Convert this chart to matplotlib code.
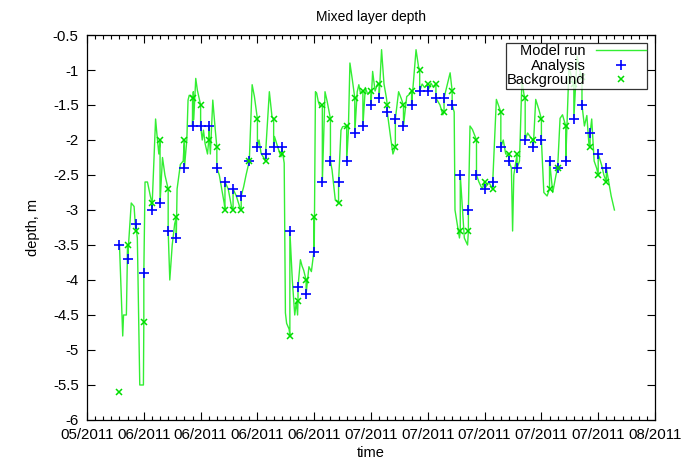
"""Mixed layer depth: model run vs analysis and background."""

import matplotlib
matplotlib.use("Agg")
import matplotlib.pyplot as plt
import matplotlib.dates as mdates
import numpy as np
import pandas as pd

start = pd.Timestamp("2011-05-29")

# daily assimilation cycles (days since start)
cycle_days = list(range(4, 65))

analysis = [
    -3.5, -3.7, -3.2, -3.9, -3.0, -2.9, -3.3, -3.4, -2.4, -1.8,
    -1.8, -1.8, -2.4, -2.6, -2.7, -2.8, -2.3, -2.1, -2.2, -2.1,
    -2.1, -3.3, -4.1, -4.2, -3.6, -2.6, -2.3, -2.6, -2.3, -1.9,
    -1.8, -1.5, -1.4, -1.6, -1.7, -1.8, -1.5, -1.3, -1.3, -1.4,
    -1.4, -1.5, -2.5, -3.0, -2.5, -2.7, -2.6, -2.1, -2.3, -2.4,
    -2.0, -2.1, -2.0, -2.3, -2.4, -2.3, -1.7, -1.5, -1.9, -2.2,
    -2.4,
]

background = [
    -5.6, -3.5, -3.3, -4.6, -2.9, -2.0, -2.7, -3.1, -2.0, -1.4,
    -1.5, -2.0, -2.1, -3.0, -3.0, -3.0, -2.3, -1.7, -2.3, -1.7,
    -2.2, -4.8, -4.3, -4.0, -3.1, -1.5, -1.7, -2.9, -1.8, -1.4,
    -1.3, -1.3, -1.2, -1.5, -2.1, -1.5, -1.3, -1.0, -1.2, -1.2,
    -1.6, -1.3, -3.3, -3.3, -2.0, -2.6, -2.7, -1.6, -2.2, -2.2,
    -1.4, -2.0, -1.7, -2.7, -2.4, -1.8, -1.2, -1.1, -2.1, -2.5,
    -2.6,
]

# model trajectory between cycles: (day, depth) after each analysis
model_between = {
    4: [(4.4, -4.8), (4.5, -4.5), (4.85, -4.5)],
    5: [(5.45, -2.9), (5.8, -2.95)],
    6: [(6.2, -3.4), (6.5, -5.5), (6.95, -5.5)],
    7: [(7.15, -2.6), (7.45, -2.6), (7.8, -2.8)],
    8: [(8.45, -1.7), (8.6, -1.9), (8.85, -2.2)],
    9: [(9.3, -2.25), (9.6, -2.5)],
    10: [(10.2, -4.0), (10.5, -3.5), (10.8, -3.2)],
    11: [(11.1, -2.7), (11.5, -2.35), (11.85, -2.3)],
    12: [(12.3, -2.0), (12.45, -1.43), (12.6, -1.36)],
    13: [(13.1, -1.31), (13.15, -1.71), (13.4, -1.12), (13.6, -1.29)],
    14: [(14.2, -2.0), (14.35, -1.86), (14.55, -2.05), (14.85, -2.2)],
    15: [(15.2, -2.2), (15.5, -1.43), (15.8, -1.85)],
    16: [(16.3, -2.5), (16.6, -2.7), (16.9, -2.9)],
    17: [(17.4, -2.7), (17.8, -2.95)],
    18: [(18.4, -2.8), (18.8, -2.95)],
    19: [(19.3, -2.67), (19.6, -2.5)],
    20: [(20.35, -1.21), (20.63, -1.38)],
    21: [(21.2, -2.0), (21.45, -2.19), (21.95, -2.29)],
    22: [(22.47, -1.31), (22.8, -1.67)],
    23: [(23.1, -1.95), (23.5, -2.1), (23.9, -2.24)],
    24: [(24.3, -2.33), (24.45, -4.47), (24.6, -4.62), (24.9, -4.7)],
    25: [(25.3, -4.0), (25.6, -4.5), (25.8, -4.31), (25.95, -4.5)],
    26: [(26.3, -3.71), (26.5, -3.8), (26.7, -3.86)],
    27: [(27.35, -3.81), (27.65, -3.88), (27.95, -3.6)],
    28: [(28.15, -1.31), (28.3, -1.33), (28.5, -1.45), (28.7, -1.52)],
    29: [(29.33, -1.31), (29.6, -1.45)],
    30: [(30.2, -2.43), (30.6, -2.86)],
    31: [(31.3, -1.86), (31.5, -1.81)],
    32: [(32.2, -1.9), (32.4, -0.9), (32.7, -1.14)],
    33: [(33.3, -1.31), (33.5, -1.21), (33.7, -1.33)],
    34: [(34.3, -1.25), (34.6, -1.35), (34.9, -1.3)],
    35: [(35.2, -1.02), (35.5, -1.3), (35.8, -1.2)],
    36: [(36.3, -0.71), (36.6, -1.2), (36.9, -1.4)],
    37: [(37.4, -1.95), (37.7, -2.2)],
    38: [(38.4, -1.31), (38.7, -1.4)],
    39: [(39.4, -1.38), (39.7, -1.35)],
    40: [(40.55, -0.71), (40.85, -0.95)],
    41: [(41.3, -1.2), (41.6, -1.25)],
    42: [(42.4, -1.19), (42.7, -1.25)],
    43: [(43.5, -1.5), (43.85, -1.64)],
    44: [(44.75, -1.04), (44.9, -1.2)],
    45: [(45.25, -1.6), (45.35, -3.0), (45.9, -3.4)],
    46: [(46.5, -3.4), (46.9, -3.5)],
    47: [(47.2, -1.8), (47.5, -1.85)],
    48: [(48.3, -2.6), (48.7, -2.7)],
    49: [(49.5, -2.6)],
    50: [(50.45, -1.42), (50.75, -1.52)],
    51: [(51.3, -2.0), (51.6, -2.2)],
    52: [(52.3, -2.4), (52.45, -3.3), (52.6, -2.5)],
    53: [(53.3, -2.3), (53.6, -1.14), (53.85, -1.35)],
    54: [(54.3, -1.9), (54.6, -1.95)],
    55: [(55.3, -1.42), (55.7, -1.57)],
    56: [(56.3, -2.75), (56.7, -2.8)],
    57: [(57.4, -2.75), (57.8, -2.5)],
    58: [(58.3, -1.69), (58.6, -1.64)],
    59: [(59.4, -0.95), (59.7, -1.1)],
    60: [(60.4, -0.8), (60.7, -1.0)],
    61: [(61.3, -1.8), (61.6, -1.65), (61.85, -2.05)],
    62: [(62.2, -1.7), (62.5, -2.3), (62.8, -2.4)],
    63: [(63.4, -2.35), (63.7, -2.5)],
    64: [(64.3, -2.6), (64.6, -2.8), (65.0, -3.0)],
}

# assemble the run: reach background at each cycle, jump to analysis, evolve
run_t, run_v = [], []
for i, d in enumerate(cycle_days):
    if i > 0:
        run_t.append(d)
        run_v.append(background[i])
    run_t.append(d)
    run_v.append(analysis[i])
    for t, v in model_between[d]:
        run_t.append(t)
        run_v.append(v)

to_date = lambda days: start + pd.to_timedelta(np.asarray(days, dtype=float), unit="D")

plt.rcParams["font.family"] = ["Liberation Sans", "DejaVu Sans"]
fig = plt.figure(figsize=(6.94, 4.63), dpi=100)
ax = fig.add_axes([0.1254, 0.0929, 0.8184, 0.8315])

ax.plot(to_date(run_t), run_v, color="#33ee33", lw=1.0, label="Model run")
ax.plot(to_date(cycle_days), analysis, ls="none", marker="+", ms=6.5, mew=1.2,
        color="#0000ff", label="Analysis")
ax.plot(to_date(cycle_days), background, ls="none", marker="x", ms=5, mew=1.1,
        color="#00dd00", label="Background")

ax.set_xlim(start, start + pd.Timedelta(days=70))
ax.set_ylim(-6, -0.5)
ax.set_yticks(np.arange(-6, -0.49, 0.5))
ax.set_yticklabels(["-6", "-5.5", "-5", "-4.5", "-4", "-3.5", "-3", "-2.5",
                    "-2", "-1.5", "-1", "-0.5"])
ax.xaxis.set_major_locator(mdates.DayLocator(interval=7))
ax.xaxis.set_minor_locator(mdates.DayLocator())
ax.xaxis.set_major_formatter(mdates.DateFormatter("%m/%Y"))

ax.tick_params(which="both", direction="in", top=True, right=True,
               labelsize=10.8)
ax.tick_params(axis="x", pad=6)
ax.tick_params(axis="y", pad=6)
ax.tick_params(which="major", length=6, width=0.8)
ax.tick_params(which="minor", length=3, width=0.8)
for s in ax.spines.values():
    s.set_linewidth(0.9)

ax.set_title("Mixed layer depth", fontsize=10, pad=10)
ax.set_xlabel("time", fontsize=10.5, labelpad=3)
ax.set_ylabel("depth, m", fontsize=10.5, labelpad=9)

leg = ax.legend(loc="upper right", markerfirst=False, fontsize=10.5,
                frameon=True, fancybox=False, edgecolor="black",
                borderpad=0.1, labelspacing=0.02, handlelength=3.4,
                handletextpad=0.7, borderaxespad=0.55)
leg.get_frame().set_linewidth(0.9)

fig.savefig("out.png", dpi=100)
